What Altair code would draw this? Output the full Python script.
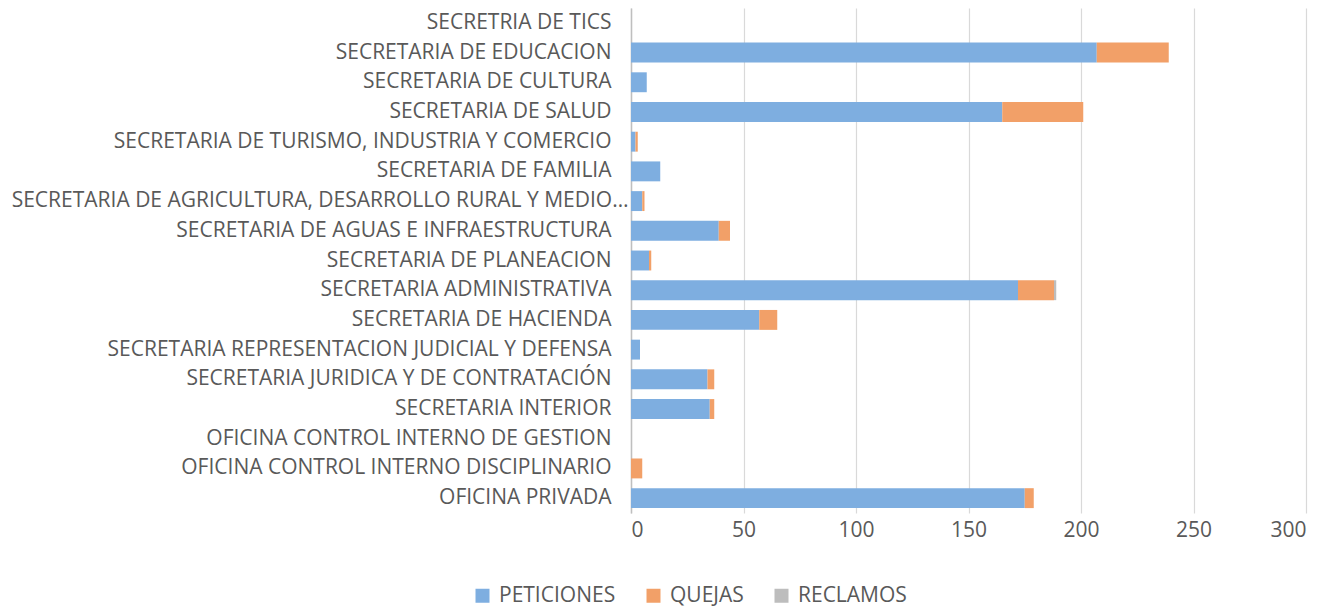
import altair as alt
import pandas as pd

categories = [
    "SECRETRIA DE TICS",
    "SECRETARIA DE EDUCACION",
    "SECRETARIA DE CULTURA",
    "SECRETARIA DE SALUD",
    "SECRETARIA DE TURISMO, INDUSTRIA Y COMERCIO",
    "SECRETARIA DE FAMILIA",
    "SECRETARIA DE AGRICULTURA, DESARROLLO RURAL Y MEDIO…",
    "SECRETARIA DE AGUAS E INFRAESTRUCTURA",
    "SECRETARIA DE PLANEACION",
    "SECRETARIA ADMINISTRATIVA",
    "SECRETARIA DE HACIENDA",
    "SECRETARIA REPRESENTACION JUDICIAL Y DEFENSA",
    "SECRETARIA JURIDICA Y DE CONTRATACIÓN",
    "SECRETARIA INTERIOR",
    "OFICINA CONTROL INTERNO DE GESTION",
    "OFICINA CONTROL INTERNO DISCIPLINARIO",
    "OFICINA PRIVADA",
]
peticiones = [0, 207, 7, 165, 2, 13, 5, 39, 8, 172, 57, 4, 34, 35, 0, 0, 175]
quejas = [0, 32, 0, 36, 1, 0, 1, 5, 1, 16, 8, 0, 3, 2, 0, 5, 4]
reclamos = [0, 0, 0, 0, 0, 0, 0, 0, 0, 1, 0, 0, 0, 0, 0, 0, 0]
series = ["PETICIONES", "QUEJAS", "RECLAMOS"]
colors = ["#7EAEE0", "#F2A068", "#BDBDBD"]

rows = []
for i, c in enumerate(categories):
    for k, (s, vals) in enumerate(zip(series, [peticiones, quejas, reclamos])):
        rows.append({"cat": c, "serie": s, "valor": vals[i], "orden": k})
df = pd.DataFrame(rows)

font = "Open Sans"
text_color = "#595959"
fs = 21

chart = (
    alt.Chart(df)
    .mark_bar()
    .encode(
        y=alt.Y(
            "cat:N",
            sort=categories,
            title=None,
            scale=alt.Scale(paddingInner=0.33, paddingOuter=0.165),
            axis=alt.Axis(
                ticks=False,
                domain=True,
                domainColor="#BFBFBF",
                domainWidth=1.5,
                labelFontSize=fs,
                labelFont=font,
                labelColor=text_color,
                labelPadding={
                    "condition": {
                        "test": "indexof(datum.value, 'AGRICULTURA') >= 0",
                        "value": 3,
                    },
                    "value": 20,
                },
                labelLimit=800,
                grid=False,
            ),
        ),
        x=alt.X(
            "valor:Q",
            stack="zero",
            title=None,
            scale=alt.Scale(domain=[0, 300], nice=False),
            axis=alt.Axis(
                values=[0, 50, 100, 150, 200, 250, 300],
                ticks=False,
                domain=False,
                grid=True,
                gridColor="#D9D9D9",
                gridWidth=1.2,
                labelFontSize=fs,
                labelFont=font,
                labelColor=text_color,
                labelPadding=6,
            ),
        ),
        color=alt.Color(
            "serie:N",
            sort=series,
            scale=alt.Scale(domain=series, range=colors),
            legend=alt.Legend(
                title=None,
                orient="none",
                legendX=-159,
                legendY=577,
                direction="horizontal",
                symbolType="square",
                symbolSize=196,
                symbolStrokeWidth=0,
                labelFontSize=fs,
                labelFont=font,
                labelColor=text_color,
                columnPadding=27,
                labelOffset=6,
            ),
        ),
        order=alt.Order("orden:Q"),
    )
    .properties(
        width=675,
        height=505,
        padding={"left": 623, "top": 0, "right": 20, "bottom": 96},
        autosize=alt.AutoSizeParams(type="none"),
    )
    .configure_view(stroke=None)
)

chart.save("out.html", embed_options={"renderer": "svg", "actions": False})
